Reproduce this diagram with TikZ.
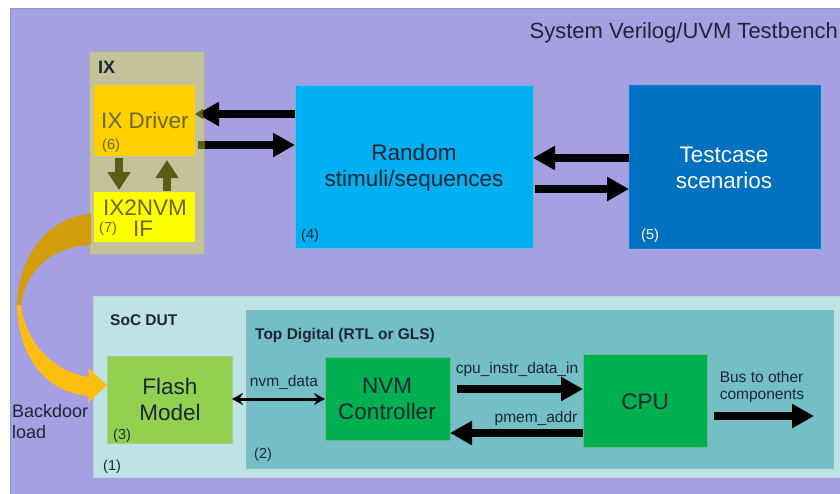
\documentclass[tikz,border=0pt]{standalone}
\usepackage{fontspec}
\setmainfont{Liberation Sans}
\usetikzlibrary{arrows.meta,calc}

\definecolor{tbpurple}{HTML}{A4A0E2}
\definecolor{tbedge}{HTML}{8E9BC6}
\definecolor{ixtan}{HTML}{C4C29A}
\definecolor{ixedge}{HTML}{A9B0A0}
\definecolor{drvgold}{HTML}{FFD000}
\definecolor{ifyellow}{HTML}{FFFF00}
\definecolor{olivetxt}{HTML}{6A6624}
\definecolor{olivearr}{HTML}{5C5C14}
\definecolor{stimblue}{HTML}{00B0F0}
\definecolor{tcblue}{HTML}{0070C0}
\definecolor{soccyan}{HTML}{BEE3E5}
\definecolor{topteal}{HTML}{74BFC6}
\definecolor{flashgreen}{HTML}{92D050}
\definecolor{blkgreen}{HTML}{00B050}
\definecolor{darktxt}{HTML}{1C2633}
\definecolor{bdgoldA}{HTML}{D29C0C}
\definecolor{bdgoldB}{HTML}{FFBD10}

\tikzset{
  box/.style={anchor=north west, inner sep=0pt, outer sep=0pt, align=center,
    text=darktxt},
  boxtext/.style={inner sep=0pt, align=center, text=darktxt,
    font=\fontsize{22.5}{26}\selectfont},
  tag/.style={inner sep=0pt, text=darktxt, font=\fontsize{14.5}{15}\selectfont},
  title/.style={inner sep=0pt, text=darktxt, font=\bfseries\fontsize{15.5}{17}\selectfont},
  siglabel/.style={inner sep=0pt, text=darktxt, font=\fontsize{15.5}{17.5}\selectfont, align=left},
  fatarrow/.style={line width=8pt, draw=black,
    -{Triangle[length=22pt,width=23pt]}},
  olivearrow/.style={line width=8pt, draw=olivearr,
    -{Triangle[length=18pt,width=22pt]}},
  thinarrow/.style={line width=3pt, draw=black,
    {Stealth[length=11pt,width=12pt]}-{Stealth[length=11pt,width=12pt]}},
}

\begin{document}
\begin{tikzpicture}[x=1pt,y=-1pt]
\useasboundingbox (0,0) rectangle (840,493);
\clip (0,0) rectangle (840,493);
\fill[white] (0,0) rectangle (840,493);

% testbench background
\node[box, draw=tbedge, line width=1pt, fill=tbpurple,
  minimum width=850pt, minimum height=500pt] (tb) at (10,8) {};
\node[inner sep=0pt, anchor=east, text=darktxt, font=\fontsize{22}{24}\selectfont]
  (tbtitle) at (838,33) {System Verilog/UVM Testbench};

% IX agent
\node[box, draw=ixedge, line width=1pt, fill=ixtan,
  minimum width=115pt, minimum height=203pt] (ix) at (89,51) {};
\node[title, anchor=west, font=\bfseries\fontsize{18}{20}\selectfont]
  (ixlabel) at (98,67) {IX};
\node[box, fill=drvgold, minimum width=101pt, minimum height=71pt] (drv) at (94,85) {};
\node[boxtext, text=olivetxt] (drvtext) at (145,120) {IX Driver};
\node[tag, anchor=west, text=olivetxt] (drvnum) at (102,146) {(6)};
\node[box, fill=ifyellow, minimum width=101pt, minimum height=50pt] (ifc) at (94,192) {};
\node[boxtext, text=olivetxt] (iftextA) at (145,208) {IX2NVM};
\node[boxtext, text=olivetxt] (iftextB) at (143,229) {IF};
\node[tag, anchor=west, text=olivetxt] (ifnum) at (99,229) {(7)};

% driver <-> interface
\coordinate (dnA) at (119,158);
\coordinate (dnB) at (119,190);
\coordinate (upA) at (167,191);
\coordinate (upB) at (167,160);
\draw[olivearrow] (dnA) -- (dnB);
\draw[olivearrow] (upA) -- (upB);

% stimulus and testcase blocks
\node[box, draw=stimblue!80!black!60, line width=0.8pt, fill=stimblue,
  minimum width=238pt, minimum height=163pt] (stim) at (295,85) {};
\node[boxtext] (stimtext) at (414,168) {Random\\stimuli/sequences};
\node[tag, anchor=west] (stimnum) at (301,236) {(4)};

\node[box, draw=tcblue!70!stimblue, line width=0.8pt, fill=tcblue,
  minimum width=191pt, minimum height=163pt] (tc) at (629,85) {};
\node[boxtext, text=white] (tctext) at (724,168) {Testcase\\scenarios};
\node[tag, anchor=west, text=white] (tcnum) at (641,236) {(5)};

% driver <-> stimulus
\draw[fatarrow] (stim.west |- 0,114) -- (197,114);
\draw[fatarrow] (205,145) -- (stim.west |- 0,145);
\fill[olivearr] (195,114) -- (203,109) -- (203,119) -- cycle;
\fill[olivearr] (198,141) rectangle (205,149);

% stimulus <-> testcase
\draw[fatarrow] (tc.west |- 0,158) -- (stim.east |- 0,158);
\draw[fatarrow] (535,189) -- (tc.west |- 0,189);

% SoC DUT
\node[box, draw=soccyan!80!black!60, line width=1pt, fill=soccyan,
  minimum width=760pt, minimum height=181pt] (soc) at (93,296) {};
\node[title, anchor=west] (soclabel) at (110,320) {SoC DUT};
\node[tag, anchor=west] (socnum) at (103,467) {(1)};

\node[box, draw=topteal!80!black!70, line width=1pt, fill=topteal,
  minimum width=587pt, minimum height=158pt] (top) at (246,310) {};
\node[title, anchor=west] (toplabel) at (255,336) {Top Digital (RTL or GLS)};
\node[tag, anchor=west] (topnum) at (254,455) {(2)};

\node[box, draw=flashgreen!80!black!60, line width=0.8pt, fill=flashgreen,
  minimum width=125pt, minimum height=87pt] (flash) at (107,356) {};
\node[boxtext] (flashtext) at (170,399) {Flash\\Model};
\node[tag, anchor=west] (flashnum) at (113,436) {(3)};

\node[box, draw=blkgreen!80!black!60, line width=0.8pt, fill=blkgreen,
  minimum width=125pt, minimum height=83pt] (nvm) at (325,357) {};
\node[boxtext] (nvmtext) at (387,399) {NVM\\Controller};

\node[box, draw=blkgreen!80!black!60, line width=0.8pt, fill=blkgreen,
  minimum width=124pt, minimum height=93pt] (cpu) at (583,354) {};
\node[boxtext] (cputext) at (645,402) {CPU};

% buses inside the DUT
\draw[thinarrow] (flash.east |- 0,399) -- (nvm.west |- 0,399);
\node[siglabel] (nvmdata) at (284,382) {nvm\_data};

\draw[fatarrow] (457,389) -- (cpu.west |- 0,389);
\node[siglabel] (instr) at (517,369) {cpu\_instr\_data\_in};

\draw[fatarrow] (cpu.west |- 0,433) -- (nvm.east |- 0,433);
\node[siglabel] (pmem) at (536,418) {pmem\_addr};

\coordinate (busend) at (814,416);
\draw[fatarrow] (714,416) -- (busend);
\node[siglabel] (bus) at (762,387) {Bus to other\\components};

% backdoor load path from the interface into the flash model
\fill[bdgoldA] (91,214) .. controls (50,216) and (18,255) .. (17,305)
  -- (21,305) .. controls (26,268) and (55,246) .. (91,245) -- cycle;
\fill[bdgoldB] (17,305) .. controls (18,355) and (45,393) .. (89,396)
  -- (88,403) -- (107,385) -- (88,368) -- (89,377)
  .. controls (55,372) and (26,345) .. (21,305) -- cycle;
\node[inner sep=0pt, align=left, anchor=west, text=darktxt,
  font=\fontsize{18}{21}\selectfont] (bdload) at (12,422) {Backdoor\\load};
\end{tikzpicture}
\end{document}
